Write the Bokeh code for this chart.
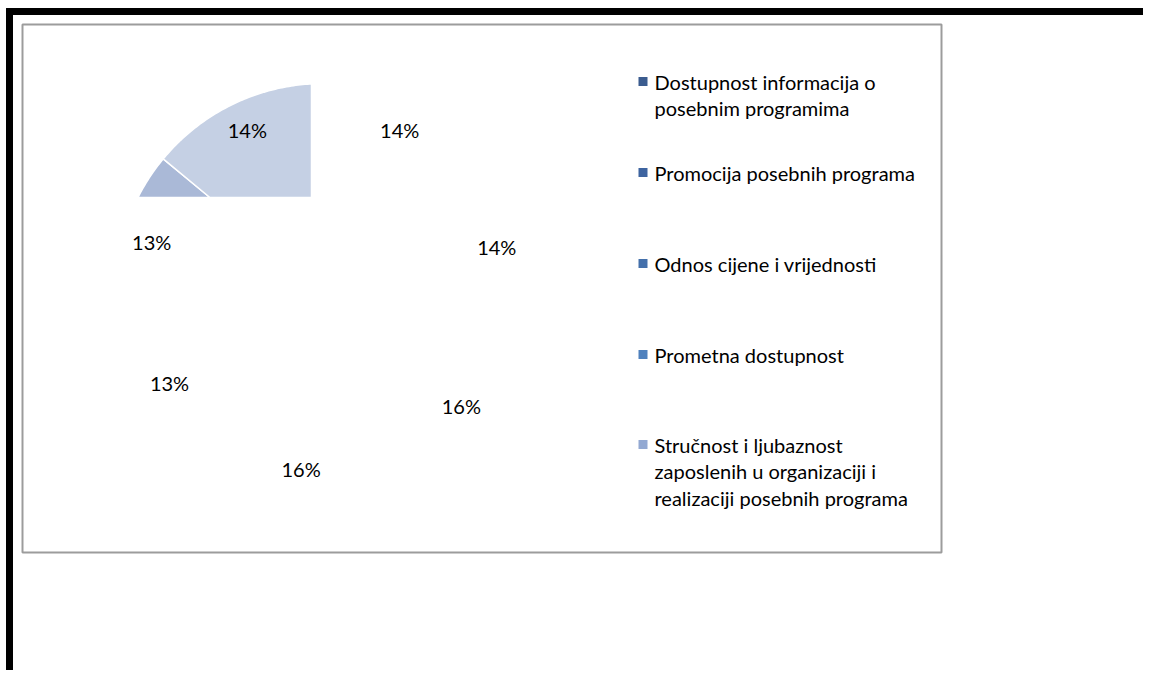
import numpy as np
from bokeh.plotting import figure
from bokeh.models import Range1d
from bokeh.core.properties import value
from bokeh.embed import file_html
from bokeh.resources import INLINE

# ---- data ----
slice_values = [14, 14, 16, 16, 13, 13, 14]
slice_labels = ["14%", "14%", "16%", "16%", "13%", "13%", "14%"]
slice_colors = ["#3a5a8c", "#3f65a0", "#4672b0", "#4f81bd", "#7592c8", "#aab9d7", "#c5d0e4"]
legend_names = [
    "Dostupnost informacija o\nposebnim programima",
    "Promocija posebnih programa",
    "Odnos cijene i vrijednosti",
    "Prometna dostupnost",
    "Stručnost i ljubaznost\nzaposlenih u organizaciji i\nrealizaciji posebnih programa",
]
legend_colors = ["#3b5c8f", "#3e64a0", "#4470ab", "#4f81bd", "#93a9d2"]

# ---- layout (page pixel coordinates) ----
W, H = 1143, 670
FONT = "Lato"
FS = "20px"
cx, cy, R = 323.0, 291.0, 208.0
clip_x, clip_y = 311.0, 197.0
label_r = 0.86 * R

p = figure(width=W, height=H, x_range=Range1d(0, W), y_range=Range1d(H, 0),
           output_backend="svg", toolbar_location=None, min_border=0,
           x_axis_location=None, y_axis_location=None)
p.grid.visible = False
p.outline_line_color = None
p.background_fill_color = "white"
p.border_fill_color = "white"

# black frame
p.quad(left=6, right=W, top=8, bottom=14, color="black")
p.quad(left=6, right=12, top=8, bottom=H, color="black")

# chart area box
p.quad(left=22, right=941, top=24, bottom=552, fill_color="white",
       line_color="#9c9c9c", line_width=2)


def clip_poly(pts, inside, inter):
    out = []
    n = len(pts)
    for i in range(n):
        cur, prev = pts[i], pts[i - 1]
        if inside(cur):
            if not inside(prev):
                out.append(inter(prev, cur))
            out.append(cur)
        elif inside(prev):
            out.append(inter(prev, cur))
    return out


def ix(a, b):
    t = (clip_x - a[0]) / (b[0] - a[0])
    return (clip_x, a[1] + t * (b[1] - a[1]))


def iy(a, b):
    t = (clip_y - a[1]) / (b[1] - a[1])
    return (a[0] + t * (b[0] - a[0]), clip_y)


total = float(sum(slice_values))
cum = np.concatenate([[0.0], np.cumsum(slice_values)]) / total
xs, ys, cols = [], [], []
lx, ly = [], []
for i in range(len(slice_values)):
    a0, a1 = cum[i] * 2 * np.pi, cum[i + 1] * 2 * np.pi
    th = np.linspace(a0, a1, 80)
    pts = [(cx, cy)] + [(cx + R * np.sin(t), cy - R * np.cos(t)) for t in th]
    pts = clip_poly(pts, lambda q: q[0] <= clip_x, ix)
    if pts:
        pts = clip_poly(pts, lambda q: q[1] <= clip_y, iy)
    if len(pts) >= 3:
        xs.append([q[0] for q in pts])
        ys.append([q[1] for q in pts])
        cols.append(slice_colors[i])
    am = (a0 + a1) / 2
    lx.append(cx + label_r * np.sin(am))
    ly.append(cy - label_r * np.cos(am))

p.patches(xs=xs, ys=ys, fill_color=cols, line_color="white", line_width=1.5)

p.text(x=lx, y=ly, text=slice_labels, text_font=value(FONT), text_font_size=FS,
       text_color="black", text_align="center", text_baseline="middle")

# legend
leg_first_y = [81, 172, 263, 354, 444]
line_h = 26.5
sq_x, txt_x = 642.5, 654
p.rect(x=[sq_x] * len(legend_colors), y=leg_first_y, width=9, height=9,
       fill_color=legend_colors, line_color=None)
tx, ty, tt = [], [], []
for name, y0 in zip(legend_names, leg_first_y):
    for k, line in enumerate(name.split("\n")):
        tx.append(txt_x)
        ty.append(y0 + k * line_h)
        tt.append(line)
p.text(x=tx, y=ty, text=tt, text_font=value(FONT), text_font_size=FS,
       text_color="black", text_align="left", text_baseline="middle")

open("out.html", "w").write(file_html(p, INLINE))
